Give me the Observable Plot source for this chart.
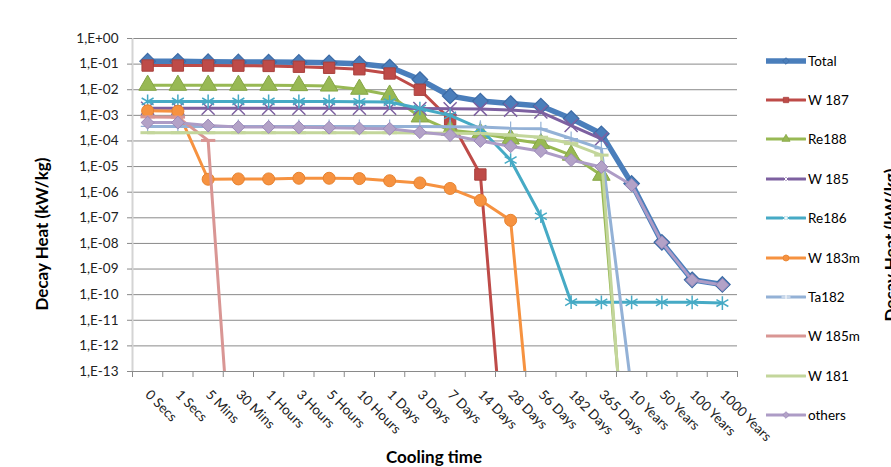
<!DOCTYPE html>
<html><head><meta charset="utf-8">
<script src="https://cdn.jsdelivr.net/npm/d3@7"></script>
<script src="https://cdn.jsdelivr.net/npm/@observablehq/plot@0.6"></script>
<style>
body{margin:0;background:#fff;}
#wrap{position:relative;width:891px;height:467px;overflow:hidden;font-family:Lato,"Noto Sans",sans-serif;background:#fff;}
#wrap svg.plot{position:absolute;left:0;top:0;}
.ttl{position:absolute;font-weight:bold;font-size:17px;color:#000;white-space:nowrap;text-align:center;line-height:20px;}
.leg{position:absolute;left:766px;height:14px;display:flex;align-items:center;font-size:13.5px;color:#000;white-space:nowrap;}
.leg svg{display:block;margin-right:2px;}
</style></head><body><div id="wrap"></div>
<script>
const categories = ["0 Secs","1 Secs","5 Mins","30 Mins","1 Hours","3 Hours","5 Hours","10 Hours","1 Days","3 Days","7 Days","14 Days","28 Days","56 Days","182 Days","365 Days","10 Years","50 Years","100 Years","1000 Years"];
const seriesNames = ["Total","W 187","Re188","W 185","Re186","W 183m","Ta182","W 185m","W 181","others"];

const total  = [0.13,0.128,0.125,0.122,0.12,0.117,0.112,0.103,0.077,0.025,0.0057,0.0036,0.0029,0.0023,7.5e-4,1.9e-4,2.2e-6,1.1e-8,3.8e-10,2.5e-10];
const w187   = [0.088,0.088,0.088,0.087,0.085,0.079,0.072,0.063,0.043,0.010,6.9e-4,4.9e-6,2.5e-20,null,null,null,null,null,null,null];
const re188  = [0.015,0.015,0.015,0.015,0.015,0.0145,0.014,0.0105,0.0062,8.7e-4,2.6e-4,2.0e-4,1.2e-4,7.9e-5,2.8e-5,4.6e-6,3e-20,null,null,null];
const w185   = [1.9e-3,1.9e-3,1.9e-3,1.9e-3,1.9e-3,1.9e-3,1.9e-3,1.9e-3,1.9e-3,1.85e-3,1.8e-3,1.75e-3,1.6e-3,1.35e-3,4.0e-4,1.2e-4,null,null,null,null];
const re186  = [3.5e-3,3.5e-3,3.5e-3,3.5e-3,3.5e-3,3.5e-3,3.5e-3,3.4e-3,3.3e-3,1.85e-3,1.0e-3,3.0e-4,1.8e-5,1.15e-7,5.1e-11,5.0e-11,5.0e-11,5.0e-11,5.0e-11,4.7e-11];
const w183m  = [1.5e-3,1.45e-3,3.2e-6,3.3e-6,3.3e-6,3.5e-6,3.5e-6,3.4e-6,2.8e-6,2.3e-6,1.4e-6,4.8e-7,8e-8,2.5e-20,null,null,null,null,null,null];
const ta182  = [3.7e-4,3.7e-4,3.7e-4,3.7e-4,3.7e-4,3.7e-4,3.7e-4,3.7e-4,3.7e-4,3.7e-4,3.6e-4,3.5e-4,3.1e-4,3.0e-4,1.25e-4,5e-5,1.8e-14,null,null,null];
const w185m  = [8.7e-4,8.5e-4,1.05e-4,2e-21,null,null,null,null,null,null,null,null,null,null,null,null,null,null,null,null];
const w181   = [2.1e-4,2.1e-4,2.1e-4,2.1e-4,2.1e-4,2.1e-4,2.1e-4,2.1e-4,2.1e-4,2.05e-4,2.0e-4,1.95e-4,1.7e-4,1.4e-4,7.9e-5,2.8e-5,6e-21,null,null,null];
const others = [5.2e-4,5.2e-4,4.0e-4,3.5e-4,3.5e-4,3.4e-4,3.3e-4,3.1e-4,3.0e-4,2.2e-4,1.7e-4,1.0e-4,6.2e-5,4.0e-5,1.8e-5,9.6e-6,1.9e-6,1.1e-8,3.7e-10,2.4e-10];

const yTicks = [1,1e-1,1e-2,1e-3,1e-4,1e-5,1e-6,1e-7,1e-8,1e-9,1e-10,1e-11,1e-12,1e-13];
const yTickLabels = ["1,E+00","1,E-01","1,E-02","1,E-03","1,E-04","1,E-05","1,E-06","1,E-07","1,E-08","1,E-09","1,E-10","1,E-11","1,E-12","1,E-13"];

const seriesValues = [total,w187,re188,w185,re186,w183m,ta182,w185m,w181,others];

const dash = {draw(ctx, size){ const w = Math.sqrt(size) * 0.9; ctx.moveTo(-w, 0); ctx.lineTo(w, 0); }};
const styles = [
  {line:"#4A7EBB", width:5.5,symbol:"diamond2", r:7,   fill:"#4A7EBB", stroke:"#3D6BA5", sw:1.2, lsym:"diamond2", lr:3},
  {line:"#BE4B48", width:3,  symbol:"square",   r:6.4, fill:"#BE4B48", stroke:"#A8403D", sw:1,   lsym:"square", lr:3},
  {line:"#98B954", width:3,  symbol:"triangle", r:6.5, fill:"#98B954", stroke:"#86A646", sw:1,   lsym:"triangle", lr:3},
  {line:"#7D60A0", width:3,  symbol:"times",    r:6,   fill:"none",    stroke:"#7D60A0", sw:1.5, lsym:"times", lr:3.5},
  {line:"#46AAC5", width:3,  symbol:"asterisk", r:6.5, fill:"none",    stroke:"#46AAC5", sw:1.5, lsym:"asterisk", lr:3.5},
  {line:"#F69240", width:3,  symbol:"circle",   r:6,   fill:"#F69240", stroke:"#E7832F", sw:1,   lsym:"circle", lr:3},
  {line:"#93B1D6", width:3,  symbol:"plus",     r:4.5, fill:"none",    stroke:"#93B1D6", sw:1.2, lsym:"plus", lr:3},
  {line:"#D99694", width:3,  symbol:dash,       r:4.5, fill:"none",    stroke:"#D99694", sw:3,   lsym:null},
  {line:"#C3D69B", width:3,  symbol:dash,       r:4.5, fill:"none",    stroke:"#C3D69B", sw:3,   lsym:null},
  {line:"#AD9CC6", width:3,  symbol:"diamond2", r:5.8, fill:"#B3A2C7", stroke:"#9B88B9", sw:1,   lsym:"diamond2", lr:3}
];

const rows = [];
seriesNames.forEach((name, s) => seriesValues[s].forEach((v, i) => { if (v != null) rows.push({series: name, i, v}); }));

const marks = [
  Plot.ruleY(yTicks, {stroke:"#8A8A8A", strokeWidth:1}),
  Plot.ruleX([-0.5], {stroke:"#D4D4D4", strokeWidth:2})
];
seriesNames.forEach((name, s) => {
  const st = styles[s];
  const d = rows.filter(r => r.series === name);
  marks.push(Plot.line(d, {x:"i", y:"v", stroke:st.line, strokeWidth:st.width, strokeLinejoin:"round", clip:true}));
  marks.push(Plot.dot(d, {x:"i", y:"v", symbol:st.symbol, r:st.r, fill:st.fill, stroke:st.stroke, strokeWidth:st.sw, clip:true}));
});
const boundaries = categories.map((c, i) => i - 0.5).concat([categories.length - 0.5]);
marks.push(Plot.axisX(boundaries, {tickSize:6, tickFormat:() => "", stroke:"#8A8A8A", label:null}));
marks.push(Plot.axisX(categories.map((c, i) => i), {tickSize:0, tickPadding:21, tickRotate:45, tickFormat:i => categories[i], fontSize:13.5, fill:"#222", label:null}));
marks.push(Plot.axisY(yTicks, {tickSize:5, tickPadding:9, tickFormat:d => yTickLabels[yTicks.indexOf(d)], fontSize:13.5, fill:"#222", stroke:"#8A8A8A", label:null}));

const chart = Plot.plot({
  width:891, height:467,
  marginLeft:132, marginRight:154, marginTop:38, marginBottom:96,
  x:{type:"linear", domain:[-0.5, categories.length - 0.5]},
  y:{type:"log", domain:[1e-13, 1]},
  style:{fontFamily:"Lato, 'Noto Sans', sans-serif", fontSize:"13px", background:"#fff", color:"#222"},
  marks
});
chart.classList.add("plot");
const wrap = document.getElementById("wrap");
wrap.appendChild(chart);

// titles
const yt = document.createElement("div");
yt.className = "ttl"; yt.textContent = "Decay Heat (kW/kg)";
yt.style.cssText = "left:-58px;top:224px;width:200px;transform:rotate(-90deg);";
wrap.appendChild(yt);
const xt = document.createElement("div");
xt.className = "ttl"; xt.textContent = "Cooling time";
xt.style.cssText = "left:334px;top:447px;width:200px;";
wrap.appendChild(xt);
const rt = document.createElement("div");
rt.className = "ttl"; rt.textContent = "Decay Heat (kW/kg)";
rt.style.cssText = "left:791px;top:235px;width:200px;transform:rotate(-90deg);";
wrap.appendChild(rt);

// legend
seriesNames.forEach((name, s) => {
  const st = styles[s];
  const row = document.createElement("div");
  row.className = "leg";
  row.style.top = (60.5 + 39.4 * s - 7) + "px";
  const svg = d3.create("svg").attr("width", 40).attr("height", 14);
  svg.append("line").attr("x1", 0).attr("x2", 39).attr("y1", 7).attr("y2", 7)
     .attr("stroke", st.line).attr("stroke-width", st.width).attr("stroke-linecap", "round");
  if (st.lsym) {
    const symMap = {diamond2:d3.symbolDiamond2, square:d3.symbolSquare, triangle:d3.symbolTriangle, times:d3.symbolTimes, asterisk:d3.symbolAsterisk, circle:d3.symbolCircle, plus:d3.symbolPlus};
    const hollow = st.fill === "none";
    svg.append("path").attr("transform", "translate(20,7)")
      .attr("d", d3.symbol(symMap[st.lsym], Math.PI * st.lr * st.lr)())
      .attr("fill", hollow ? "none" : st.fill)
      .attr("stroke", hollow ? "#ffffff" : st.stroke).attr("stroke-width", hollow ? 1 : 0.8);
  }
  row.appendChild(svg.node());
  const sp = document.createElement("span");
  sp.textContent = name;
  row.appendChild(sp);
  wrap.appendChild(row);
});
</script></body></html>
